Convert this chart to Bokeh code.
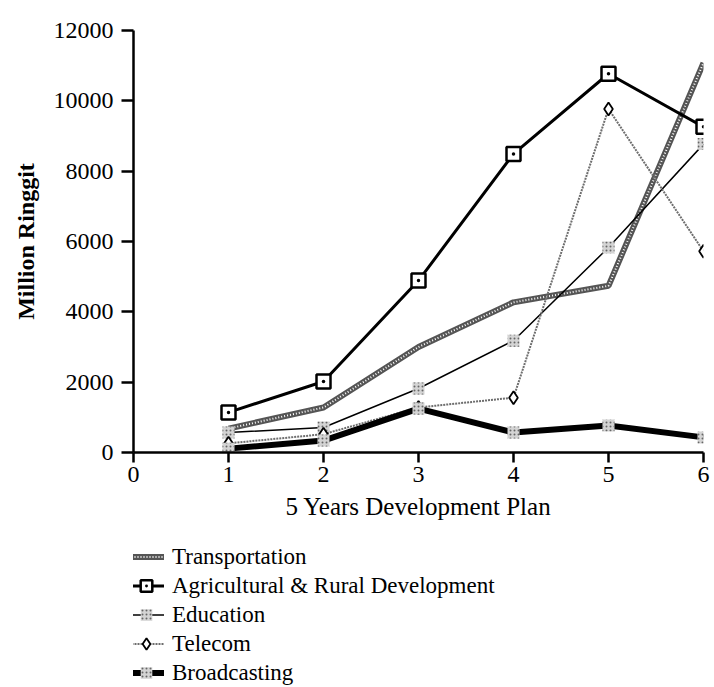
from bokeh.plotting import figure
from bokeh.models import Legend, LegendItem, FixedTicker, Range1d
from bokeh.layouts import column
from bokeh.embed import file_html
from bokeh.resources import INLINE

plans = [1, 2, 3, 4, 5, 6]
transportation = [680, 1280, 3000, 4270, 4740, 11080]
agricultural = [1140, 2020, 4890, 8490, 10770, 9260]
education = [570, 710, 1820, 3180, 5830, 8770]
telecom = [260, 520, 1280, 1560, 9770, 5720]
broadcasting = [110, 340, 1250, 570, 770, 430]
y_ticks = [0, 2000, 4000, 6000, 8000, 10000, 12000]
x_ticks = [0, 1, 2, 3, 4, 5, 6]
labels = ["Transportation", "Agricultural & Rural Development", "Education",
          "Telecom", "Broadcasting"]

SERIF = "Liberation Serif"

p = figure(width=714, height=540, output_backend="svg", toolbar_location=None,
           x_range=Range1d(0, 6), y_range=Range1d(0, 12000),
           min_border_left=133, min_border_top=30, min_border_right=11,
           min_border_bottom=88)
p.grid.visible = False
p.outline_line_color = None
p.background_fill_color = "white"

for ax in (p.xaxis[0], p.yaxis[0]):
    ax.axis_line_width = 2.5
    ax.axis_line_color = "black"
    ax.major_tick_line_width = 2.5
    ax.major_tick_in = 0
    ax.minor_tick_line_color = None
    ax.major_label_text_font = SERIF
    ax.major_label_text_font_size = "24px"
    ax.major_label_text_color = "black"
    ax.axis_label_text_font = SERIF
    ax.axis_label_text_color = "black"

p.yaxis.ticker = FixedTicker(ticks=y_ticks)
p.xaxis.ticker = FixedTicker(ticks=x_ticks)
p.yaxis.major_tick_out = 12
p.xaxis.major_tick_out = 10
p.yaxis.major_label_standoff = 8
p.xaxis.major_label_standoff = 4
p.yaxis.axis_label = "Million Ringgit"
p.yaxis.axis_label_text_font_style = "bold"
p.yaxis.axis_label_text_font_size = "24px"
p.yaxis.axis_label_standoff = 12
p.xaxis.axis_label = "5 Years Development Plan"
p.xaxis.axis_label_text_font_style = "normal"
p.xaxis.axis_label_text_font_size = "25px"
p.xaxis.axis_label_standoff = 8

# style per series (line layers, marker)
T_LINES = [dict(line_color="#555555", line_width=6),
           dict(line_color="white", line_width=2, line_dash="1 2")]
A_LINES = [dict(line_color="black", line_width=3)]
A_MARK = dict(marker="square_dot", size=14, fill_color="white", line_color="black", line_width=2.5)
E_LINES = [dict(line_color="black", line_width=1.5)]
STIPPLE = dict(marker="square", size=12, fill_color="#d4d4d4", line_color=None,
               hatch_pattern=".", hatch_color="#666666", hatch_scale=4)
C_LINES = [dict(line_color="#6e6e6e", line_width=2, line_dash="2 1")]
C_MARK = dict(marker="diamond", size=13, fill_color="white", line_color="black", line_width=1.8)
B_LINES = [dict(line_color="black", line_width=6)]

series = [
    (transportation, T_LINES, None),
    (agricultural, A_LINES, A_MARK),
    (education, E_LINES, STIPPLE),
    (telecom, C_LINES, C_MARK),
    (broadcasting, B_LINES, STIPPLE),
]

for vals, lines, mark in series:
    for st in lines:
        p.line(plans, vals, **st)
    if mark:
        p.scatter(plans, vals, **mark)

# legend strip below the chart: proxies use the same data but fall outside this strip's range
p2 = figure(width=714, height=147, output_backend="svg", toolbar_location=None,
            x_range=Range1d(0, 1), y_range=Range1d(-2, -1),
            x_axis_type=None, y_axis_type=None,
            min_border_left=0, min_border_right=0, min_border_top=0, min_border_bottom=0)
p2.grid.visible = False
p2.outline_line_color = None

items = []
for (vals, lines, mark), lab in zip(series, labels):
    rs = [p2.line(plans, vals, **st) for st in lines]
    if mark:
        rs.append(p2.scatter(plans, vals, **mark))
    items.append(LegendItem(label=lab, renderers=rs))

legend = Legend(items=items, location=(-5, 0), orientation="vertical")
legend.border_line_color = None
legend.background_fill_alpha = 0
legend.padding = 0
legend.margin = 0
legend.spacing = 0
legend.glyph_width = 36
legend.glyph_height = 29
legend.label_height = 29
legend.label_standoff = 8
legend.label_text_font = SERIF
legend.label_text_font_size = "23px"
legend.label_text_color = "black"
p2.add_layout(legend, "center")

layout = column(p, p2, spacing=0)
open("out.html", "w").write(file_html(layout, INLINE))
